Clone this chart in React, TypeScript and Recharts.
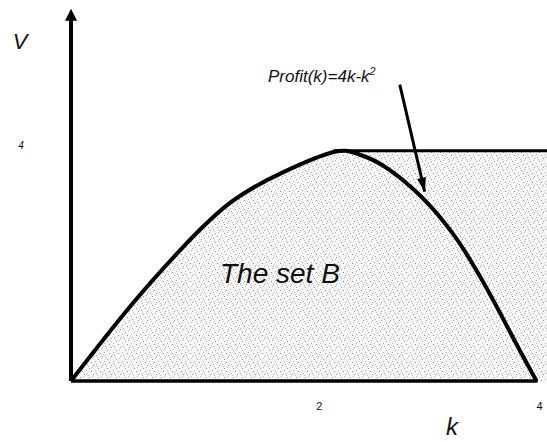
import React from "react"
import {
 ComposedChart,
 Area,
 Line,
 XAxis,
 YAxis,
 ReferenceLine,
 ReferenceDot,
} from "recharts"

// hand-drawn profit curve (k, V)
const kValues = [0, 0.48, 0.92, 1.36, 1.82, 2.25, 2.45, 2.73, 3.27, 3.74, 3.99]
const profitValues = [0, 1.23, 2.24, 3.09, 3.63, 3.98, 3.95, 3.67, 2.57, 0.94, 0]

// flat cap of the set B, from the peak to the right edge
const capStart = 2.25
const capEnd = 4.08
const capValue = 4

const xTicks = [2, 4]
const yTicks = [4]

// annotation arrow (k, V)
const arrowFrom = { x: 2.818, y: 5.15 }
const arrowTo = { x: 3.032, y: 3.29 }
const axisTop = 6.47
const setLabel = { x: 1.277, y: 1.7, text: "The set B" }

const font = "'Liberation Sans', Arial, sans-serif"

const rows = [
 ...kValues.map((k, i) => ({
  k,
  profit: profitValues[i],
  B: k < capStart ? profitValues[i] : capValue,
  cap: k >= capStart ? capValue : undefined,
 })),
 { k: capEnd, profit: undefined, B: capValue, cap: capValue },
]

const XTick = (props: any) => {
 const { x, y, payload } = props
 const dx = payload.value === 2 ? 15 : 2
 return (
  <text x={x + dx} y={y + 29} textAnchor="middle" fontFamily={font} fontSize={11} fill="#111">
   {payload.value}
  </text>
 )
}

const YTick = (props: any) => {
 const { y, payload } = props
 return (
  <text x={21} y={y - 2} textAnchor="middle" fontFamily={font} fontStyle="italic" fontSize={10} fill="#111">
   {payload.value}
  </text>
 )
}

const UpHead = (props: any) => {
 const { cx, cy } = props
 return <path d={`M${cx},${cy} L${cx - 6},${cy + 12} L${cx + 6},${cy + 12} Z`} fill="#000" />
}

const ArrowHead = (props: any) => {
 const { cx, cy } = props
 return (
  <path
   d="M0,0 L-4.5,-14 L4.5,-14 Z"
   transform={`translate(${cx},${cy}) rotate(-13.2)`}
   fill="#000"
  />
 )
}

const SetLabel = (props: any) => {
 const { cx, cy } = props
 return (
  <text x={cx} y={cy} fontFamily={font} fontStyle="italic" fontSize={28} fill="#111">
   {setLabel.text}
  </text>
 )
}

export default function App() {
 return (
  <div style={{ position: "absolute", left: 0, top: 0, background: "#fff" }}>
   <ComposedChart width={547} height={442} data={rows} margin={{ top: 7, right: 0, bottom: 0, left: 0 }}>
    <defs>
     <pattern id="stipple" width="9" height="9" patternUnits="userSpaceOnUse">
      <rect width="9" height="9" fill="#f7f7f7" />
      <rect x="1" y="2" width="1" height="1" fill="#8a8a8a" />
      <rect x="5" y="1" width="1" height="1" fill="#b0b0b0" />
      <rect x="3" y="5" width="1" height="1" fill="#9a9a9a" />
      <rect x="7" y="6" width="1" height="1" fill="#c0c0c0" />
      <rect x="6" y="4" width="1" height="1" fill="#a8a8a8" />
      <rect x="2" y="7" width="1" height="1" fill="#b8b8b8" />
      <rect x="8" y="8" width="1" height="1" fill="#999" />
      <rect x="4" y="3" width="1" height="1" fill="#d0d0d0" />
     </pattern>
    </defs>
    <XAxis
     dataKey="k"
     type="number"
     domain={[0, capEnd]}
     ticks={xTicks}
     axisLine={false}
     tickLine={false}
     tickSize={0}
     tickMargin={0}
     height={61}
     tick={<XTick />}
     interval={0}
    />
    <YAxis
     type="number"
     domain={[0, 6.5]}
     ticks={yTicks}
     axisLine={false}
     tickLine={false}
     tickSize={0}
     tickMargin={0}
     width={71}
     tick={<YTick />}
     interval={0}
    />
    <Area
     dataKey="B"
     type="natural"
     stroke="none"
     fill="url(#stipple)"
     fillOpacity={1}
     connectNulls
     isAnimationActive={false}
    />
    <Line dataKey="cap" type="linear" stroke="#000" strokeWidth={3} dot={false} connectNulls isAnimationActive={false} />
    <Line dataKey="profit" type="natural" stroke="#000" strokeWidth={4} dot={false} connectNulls isAnimationActive={false} />
    <ReferenceLine segment={[{ x: 0, y: 0 }, { x: 4, y: 0 }]} stroke="#000" strokeWidth={3.5} ifOverflow="visible" />
    <ReferenceLine segment={[{ x: 0, y: 0 }, { x: 0, y: 6.3 }]} stroke="#000" strokeWidth={4} ifOverflow="visible" />
    <ReferenceDot x={0} y={axisTop} shape={<UpHead />} ifOverflow="visible" />
    <ReferenceLine segment={[arrowFrom, arrowTo]} stroke="#000" strokeWidth={3} ifOverflow="visible" />
    <ReferenceDot x={arrowTo.x} y={arrowTo.y} shape={<ArrowHead />} ifOverflow="visible" />
    <ReferenceDot x={setLabel.x} y={setLabel.y} shape={<SetLabel />} ifOverflow="visible" />
    <text x={20} y={49} textAnchor="middle" fontFamily={font} fontStyle="italic" fontSize={22} fill="#111">
     V
    </text>
    <text x={452} y={435} textAnchor="middle" fontFamily={font} fontStyle="italic" fontSize={24} fill="#111">
     k
    </text>
    <text x={268} y={82} fontFamily={font} fontStyle="italic" fontSize={17} fill="#111">
     Profit(k)=4k-k
     <tspan fontSize={11} dy={-7}>2</tspan>
    </text>
   </ComposedChart>
  </div>
 )
}
